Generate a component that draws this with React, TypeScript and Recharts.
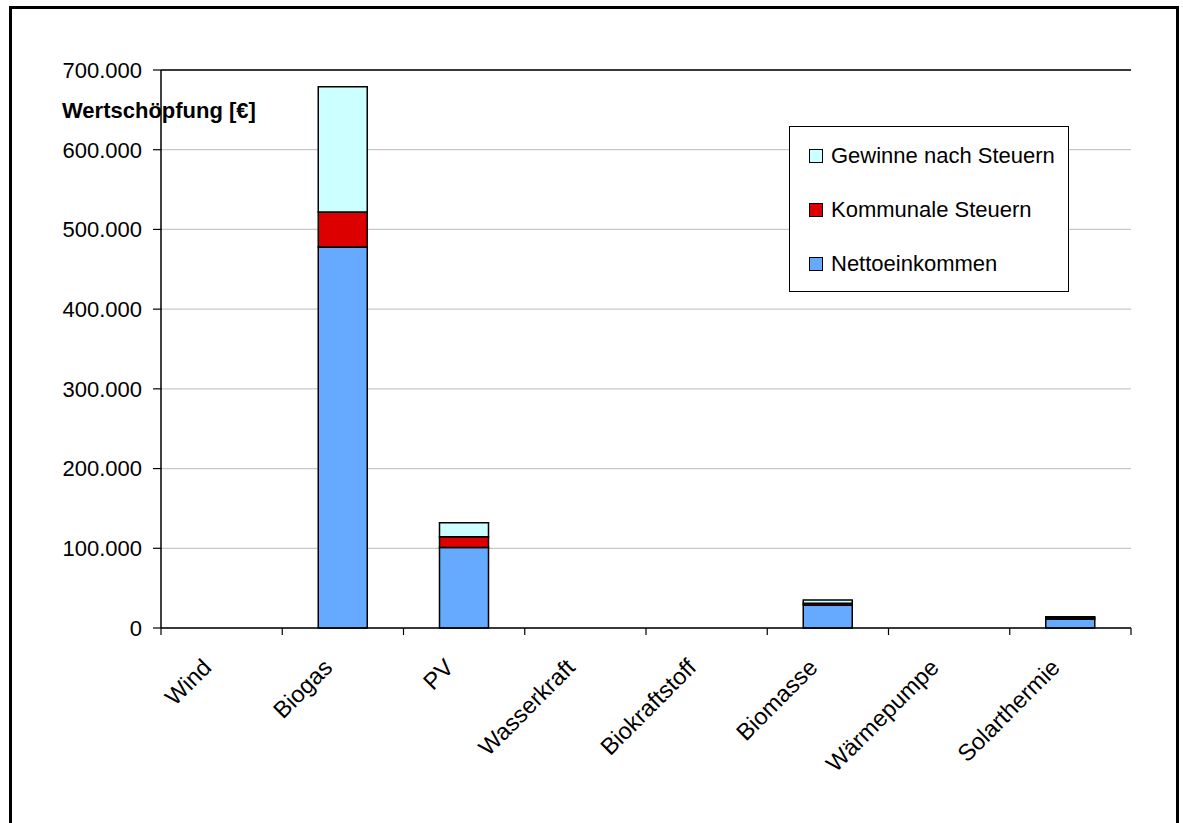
import React from "react";
import { BarChart, Bar, XAxis, YAxis, CartesianGrid, ReferenceLine } from "recharts";

const categories = ["Wind", "Biogas", "PV", "Wasserkraft", "Biokraftstoff", "Biomasse", "Wärmepumpe", "Solarthermie"];
const nettoeinkommen = [0, 478000, 101000, 0, 0, 29000, 0, 11000];
const kommunaleSteuern = [0, 44000, 13500, 0, 0, 2000, 0, 2000];
const gewinneNachSteuern = [0, 157000, 17500, 0, 0, 4000, 0, 1000];
const yTicks = [0, 100000, 200000, 300000, 400000, 500000, 600000, 700000];

const seriesNames = ["Nettoeinkommen", "Kommunale Steuern", "Gewinne nach Steuern"];
const seriesColors = ["#66AAFF", "#DD0000", "#CCFFFF"];
const seriesKeys = ["netto", "kommunal", "gewinne"];

const data = categories.map((c, i) => ({
  name: c,
  netto: nettoeinkommen[i],
  kommunal: kommunaleSteuern[i],
  gewinne: gewinneNachSteuern[i],
}));

const FONT = "'Liberation Sans', Arial, Helvetica, sans-serif";
const W = 1183;
const H = 823;
const MARGIN = { top: 70, right: 52, bottom: 0, left: 101 };
const YAXIS_W = 60;
const XAXIS_H = 195;
const PLOT_W = W - MARGIN.left - YAXIS_W - MARGIN.right;

const fmt = (v: number) => String(v).replace(/\B(?=(\d{3})+(?!\d))/g, ".");

const XTick = (props: any) => {
  const { x, y, payload, index } = props;
  const bw = PLOT_W / categories.length;
  const left = x - bw / 2;
  const right = x + bw / 2;
  const ax = x - 9;
  const ay = y + 41;
  return (
    <g>
      <line x1={left} y1={y} x2={left} y2={y + 7} stroke="#000" strokeWidth={1.2} />
      {index === categories.length - 1 && (
        <line x1={right} y1={y} x2={right} y2={y + 7} stroke="#000" strokeWidth={1.2} />
      )}
      <text
        x={ax}
        y={ay}
        textAnchor="end"
        transform={`rotate(-45, ${ax}, ${ay})`}
        fontFamily={FONT}
        fontSize={23.5}
        fill="#000"
      >
        {payload.value}
      </text>
    </g>
  );
};

export default function App() {
  const legendOrder = [2, 1, 0];
  return (
    <div style={{ position: "fixed", left: 0, top: 0, width: W, height: H, overflow: "hidden", background: "#fff" }}>
      <div
        style={{
          position: "absolute",
          left: 9,
          top: 6,
          width: 1170,
          height: 900,
          border: "3px solid #000",
          boxSizing: "border-box",
        }}
      />
      <div style={{ position: "absolute", left: 0, top: 0 }}>
        <BarChart width={W} height={H} data={data} margin={MARGIN} barSize={49}>
          <CartesianGrid vertical={false} stroke="#c8c8c8" strokeWidth={1.2} />
          <XAxis
            dataKey="name"
            height={XAXIS_H}
            interval={0}
            tickLine={false}
            tickSize={0}
            tickMargin={0}
            axisLine={{ stroke: "#000", strokeWidth: 1.5 }}
            tick={<XTick />}
          />
          <YAxis
            width={YAXIS_W}
            domain={[0, 700000]}
            ticks={yTicks}
            interval={0}
            tickFormatter={fmt}
            tickSize={8}
            tickMargin={11}
            tickLine={{ stroke: "#000", strokeWidth: 1.2 }}
            axisLine={{ stroke: "#000", strokeWidth: 1.5 }}
            tick={{ fill: "#000", fontSize: 22, fontFamily: FONT }}
          />
          <YAxis
            yAxisId="right"
            orientation="right"
            width={0}
            domain={[0, 700000]}
            tick={false}
            tickLine={false}
            axisLine={{ stroke: "#000", strokeWidth: 1.5 }}
          />
          <ReferenceLine y={700000} stroke="#000" strokeWidth={1.5} />
          {seriesKeys.map((k, i) => (
            <Bar
              key={k}
              dataKey={k}
              name={seriesNames[i]}
              stackId="a"
              fill={seriesColors[i]}
              stroke="#000"
              strokeWidth={1.5}
              isAnimationActive={false}
            />
          ))}
        </BarChart>
      </div>
      <svg style={{ position: "absolute", left: 0, top: 0, pointerEvents: "none" }} width={W} height={H}>
        <text x={62} y={118} fontFamily={FONT} fontWeight="bold" fontSize={22} fill="#000">
          Wertschöpfung [€]
        </text>
      </svg>
      <div
        style={{
          position: "absolute",
          left: 789,
          top: 126,
          width: 280,
          height: 166,
          border: "1px solid #000",
          boxSizing: "border-box",
          background: "#fff",
          fontFamily: FONT,
          fontSize: 22,
          color: "#000",
        }}
      >
        {legendOrder.map((si, row) => (
          <div
            key={si}
            style={{
              position: "absolute",
              left: 19,
              top: 15 + row * 54,
              height: 28,
              display: "flex",
              alignItems: "center",
              whiteSpace: "nowrap",
            }}
          >
            <span
              style={{
                display: "inline-block",
                width: 12,
                height: 12,
                background: seriesColors[si],
                border: "1px solid #000",
                marginRight: 8,
              }}
            />
            <span>{seriesNames[si]}</span>
          </div>
        ))}
      </div>
    </div>
  );
}
